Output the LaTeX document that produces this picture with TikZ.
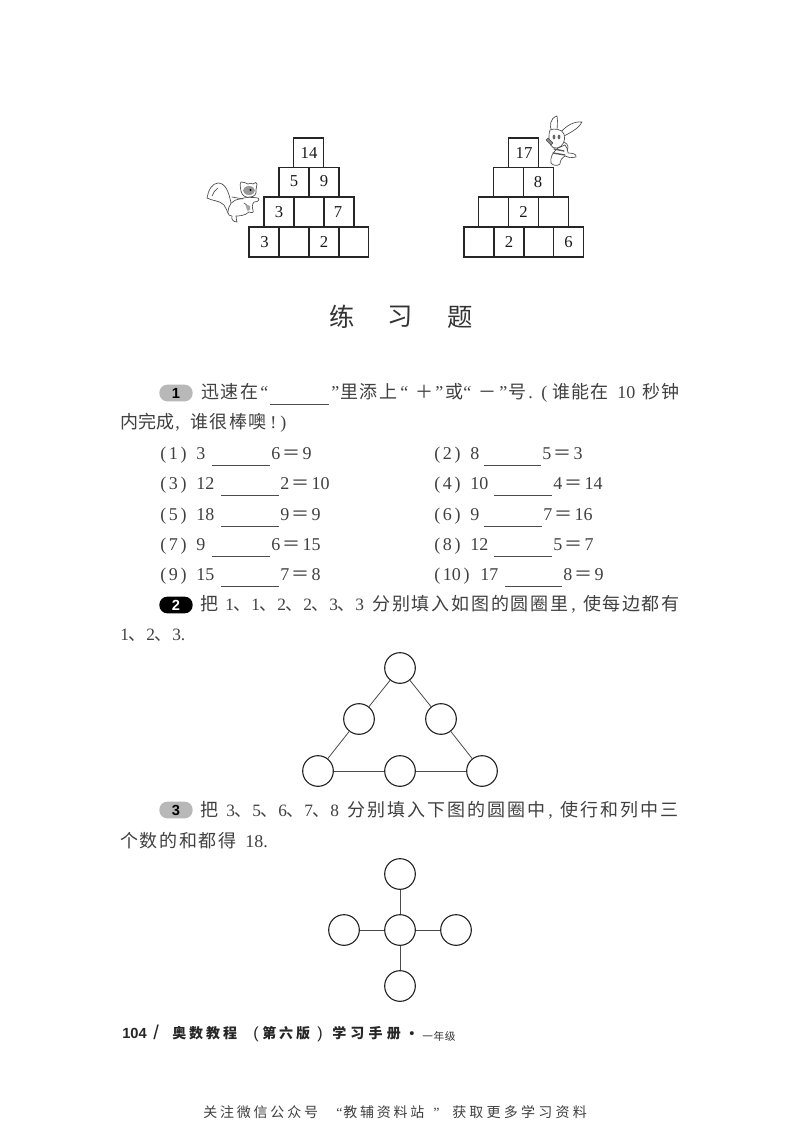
\documentclass[tikz,border=0pt]{standalone}
\usepackage{fontspec}
\setmainfont{Noto Sans CJK SC}
\newfontfamily\digf{Liberation Serif}
\newfontfamily\sansf{Liberation Sans}
\newcommand{\D}[1]{{\digf #1}}
\newcommand{\E}[2]{\D{#1}\kern1.6pt＝\kern1.6pt\D{#2}}
\newcommand{\Pan}[1]{\D{(\kern2pt#1\kern2pt)}}
\tikzset{
  txt/.style={anchor=west,inner sep=0pt,text height=11pt,text depth=1.5pt,font=\fontsize{13.5}{14}\selectfont,text=black!75},
  num/.style={anchor=center,inner sep=0pt,font=\fontsize{12.5}{13}\selectfont\digf,text=black!90},
  cell/.style={draw=black!85,line width=1.2pt},
  pill/.style={rounded corners=6pt,minimum width=25pt,minimum height=12.5pt,inner sep=0pt,font=\fontsize{11}{12}\selectfont\bfseries\sansf},
  ring/.style={circle,draw=black!85,line width=0.85pt,minimum size=23pt,inner sep=0pt},
  bar/.style={black!70,line width=0.5pt},
  conn/.style={black!70,line width=0.6pt},
  toon/.style={black!70,line width=0.5pt,line join=round,line cap=round},
  foot/.style={anchor=west,inner sep=0pt,text height=8.5pt,text depth=1.2pt,font=\fontsize{10.5}{12}\selectfont\bfseries,text=black!85},
  hand/.style={anchor=west,inner sep=0pt,text height=8.5pt,text depth=1.2pt,font=\fontsize{10.5}{11}\selectfont,text=black!75},
}
\newcommand{\LS}[1]{\addfontfeature{LetterSpace=#1}}
\begin{document}
\begin{tikzpicture}[x=0.75pt,y=-0.75pt]
\useasboundingbox (0,0) rectangle (800,1123);
\fill[white] (0,0) rectangle (800,1123);

% left pyramid
\foreach \x in {293.5} \draw[cell] (\x,138) rectangle ++(30,29.5);
\foreach \x in {279,309} \draw[cell] (\x,167.5) rectangle ++(30,29.5);
\foreach \x in {264,294,324} \draw[cell] (\x,197) rectangle ++(30,30);
\foreach \x in {249,279,309,338.5} \draw[cell] (\x,227) rectangle ++(30,30);
\node[num] (a1) at (309,153) {14};
\node[num] (a2) at (294,181) {5};
\node[num] (a3) at (324,181) {9};
\node[num] (a4) at (279,212) {3};
\node[num] (a5) at (338,212) {7};
\node[num] (a6) at (264.5,242) {3};
\node[num] (a7) at (324,242) {2};
% right pyramid
\foreach \x in {508.5} \draw[cell] (\x,138) rectangle ++(30,29.5);
\foreach \x in {493.5,523.5} \draw[cell] (\x,167.5) rectangle ++(30,29.5);
\foreach \x in {478.5,508.5,538.5} \draw[cell] (\x,197) rectangle ++(30,30);
\foreach \x in {464,494,523.5,553.5} \draw[cell] (\x,227) rectangle ++(30,30);
\node[num] (b1) at (524,153) {17};
\node[num] (b2) at (538,182) {8};
\node[num] (b3) at (523.5,212) {2};
\node[num] (b4) at (509,242) {2};
\node[num] (b5) at (568.5,242) {6};

% squirrel
\begin{scope}[toon]
\draw[fill=white] (231,203) .. controls (229,193) and (226,183) .. (218,183) .. controls (212,183) and (208,191) .. (207,198)
  .. controls (212,201) and (219,200) .. (224,205) .. controls (226,208) and (227,211) .. (228,213);
\draw (218,188) .. controls (215,190) and (213,193) .. (212,196);
\draw[fill=white] (228,213) .. controls (228,205) and (232,200) .. (240,199) .. controls (246,197) and (251,197) .. (258,198)
  .. controls (260,200) and (258,202) .. (254,202) .. controls (252,204) and (252,208) .. (253,210)
  .. controls (254,213) and (252,213) .. (249,212) .. controls (245,216) and (238,216) .. (236,216)
  .. controls (236,219) and (237,221) .. (237,222) .. controls (233,222) and (231,219) .. (232,216) .. controls (230,216) and (228,215) .. (228,213);
\draw[fill=white] (241,191) .. controls (240,186) and (240,183) .. (241,182) .. controls (244,182) and (246,183) .. (248,184)
  .. controls (250,183) and (252,183) .. (253,184) .. controls (255,182) and (257,182) .. (257,184) .. controls (257,186) and (256,188) .. (256,190)
  .. controls (257,194) and (254,197) .. (250,197) .. controls (246,198) and (242,196) .. (241,191);
\fill[black!40] (249,190.5) ellipse [x radius=6, y radius=4.5];
\fill[black] (250.5,190) circle [radius=1.1];
\draw (232,197) -- (243,199) (244,203) .. controls (248,205) and (249,208) .. (248,211);
\fill[black!35] (245,204) -- (250,206) -- (250,210) -- (247,210) -- cycle;
\end{scope}

% rabbit
\begin{scope}[toon]
\draw[fill=white] (552,132) .. controls (549,126) and (550,118) .. (557,116) .. controls (558,122) and (557,128) .. (557,131) -- cycle;
\draw[fill=white] (561,132) .. controls (566,126) and (574,121) .. (582,122) .. controls (580,127) and (572,132) .. (564,136) -- cycle;
\draw[fill=white] (558,148) .. controls (552,153) and (550,158) .. (551,163) .. controls (553,166) and (558,166) .. (560,164)
  .. controls (560,160) and (562,158) .. (565,156) .. controls (568,158) and (571,158) .. (576,157) .. controls (577,154) and (572,153) .. (568,153)
  .. controls (568,150) and (567,147) .. (565,145) -- cycle;
\draw[fill=white] (550,130) .. controls (554,128) and (562,129) .. (564,134) .. controls (566,140) and (563,147) .. (557,148)
  .. controls (551,149) and (549,143) .. (549,138) .. controls (549,135) and (549,132) .. (550,130);
\fill[black!60] (554,137) ellipse [x radius=1.4, y radius=2.4];
\fill[black!60] (559,137) ellipse [x radius=1.4, y radius=2.4];
\draw[fill=black!45] (548,138) -- (553,143) -- (551,145) -- (546,140) -- cycle;
\draw[line width=1pt,black!65] (554,149) -- (564,151) (553,153) -- (565,155);
\draw (564,142) .. controls (568,144) and (569,147) .. (567,150);
\end{scope}

% title
\node[inner sep=0pt,font=\fontsize{19}{20}\selectfont,text=black!80] (t1) at (342,317) {练};
\node[inner sep=0pt,font=\fontsize{19}{20}\selectfont,text=black!80] (t2) at (400,317) {习};
\node[inner sep=0pt,font=\fontsize{19}{20}\selectfont,text=black!80] (t3) at (460,317) {题};

% question 1
\node[pill,fill=black!28] (p1) at (176,393) {1};
\node[txt] (q1a) at (201,392) {\LS{8}迅速在};
\node[txt] (q1a2) at (260,392) {\D{“}};
\draw[bar] (270,404) -- (329,404);
\node[txt] (q1b) at (331,392) {\D{”}};
\node[txt] (q1b2) at (340,392) {\LS{8}里添上};
\node[txt] (q1b3) at (400,392) {\D{“}};
\node[txt,anchor=center] (q1b4) at (424,392) {＋};
\node[txt] (q1b5) at (435,392) {\D{”}};
\node[txt] (q1b6) at (445,392) {或};
\node[txt] (q1b7) at (463,392) {\D{“}};
\node[txt,anchor=center] (q1b8) at (487,392) {－};
\node[txt] (q1b9) at (499,392) {\D{”}};
\node[txt] (q1b10) at (508,392) {号};
\node[txt] (q1b11) at (528,392) {\D{.}};
\node[txt] (q1b12) at (541,392) {\D{(}};
\node[txt] (q1b13) at (552,392) {\LS{6}谁能在};
\node[txt] (q1c) at (617,392) {\D{10}};
\node[txt] (q1d) at (642,392) {\LS{8}秒钟};
\node[txt] (q1e) at (120,422) {内完成};
\node[txt] (q1f) at (175,422) {\D{,}};
\node[txt] (q1g) at (190,422) {\LS{8}谁很棒噢};
\node[txt] (q1h) at (270,422) {\D{!\kern3pt)}};

\node[txt] (r1) at (160,453) {\Pan{1}};
\node[txt] (r1n) at (196,453) {\D{3}};
\draw[bar] (212,465) -- (270,465);
\node[txt] (r1e) at (271,453) {\E{6}{9}};
\node[txt] (r2) at (434,453) {\Pan{2}};
\node[txt] (r2n) at (470,453) {\D{8}};
\draw[bar] (484,465) -- (541,465);
\node[txt] (r2e) at (542,453) {\E{5}{3}};

\node[txt] (r3) at (160,483) {\Pan{3}};
\node[txt] (r3n) at (196,483) {\D{12}};
\draw[bar] (221,495) -- (279,495);
\node[txt] (r3e) at (280,483) {\E{2}{10}};
\node[txt] (r4) at (434,483) {\Pan{4}};
\node[txt] (r4n) at (470,483) {\D{10}};
\draw[bar] (494,495) -- (552,495);
\node[txt] (r4e) at (553,483) {\E{4}{14}};

\node[txt] (r5) at (160,514) {\Pan{5}};
\node[txt] (r5n) at (196,514) {\D{18}};
\draw[bar] (221,526) -- (279,526);
\node[txt] (r5e) at (280,514) {\E{9}{9}};
\node[txt] (r6) at (434,514) {\Pan{6}};
\node[txt] (r6n) at (470,514) {\D{9}};
\draw[bar] (484,526) -- (542,526);
\node[txt] (r6e) at (543,514) {\E{7}{16}};

\node[txt] (r7) at (160,544) {\Pan{7}};
\node[txt] (r7n) at (196,544) {\D{9}};
\draw[bar] (212,556) -- (270,556);
\node[txt] (r7e) at (271,544) {\E{6}{15}};
\node[txt] (r8) at (434,544) {\Pan{8}};
\node[txt] (r8n) at (470,544) {\D{12}};
\draw[bar] (494,556) -- (552,556);
\node[txt] (r8e) at (553,544) {\E{5}{7}};

\node[txt] (r9) at (160,574) {\Pan{9}};
\node[txt] (r9n) at (196,574) {\D{15}};
\draw[bar] (221,586) -- (279,586);
\node[txt] (r9e) at (280,574) {\E{7}{8}};
\node[txt] (r10) at (434,574) {\Pan{10}};
\node[txt] (r10n) at (480,574) {\D{17}};
\draw[bar] (505,586) -- (562,586);
\node[txt] (r10e) at (563,574) {\E{8}{9}};

% question 2
\node[pill,fill=black,text=white] (p2) at (176,605) {2};
\node[txt] (q2a) at (200,604) {把};
\node[txt,font=\fontsize{13}{14}\selectfont] (q2b) at (225,604) {\D{1}、\D{1}、\D{2}、\D{2}、\D{3}、\D{3}};
\node[txt] (q2c) at (372,604) {\LS{10}分别填入如图的圆圈里};
\node[txt] (q2c2) at (571,604) {\D{,}};
\node[txt] (q2c3) at (583,604) {\LS{8}使每边都有};
\node[txt,font=\fontsize{13}{14}\selectfont] (q2d) at (120,634) {\D{1}、\D{2}、\D{3}\D{.}};

% triangle
\node[ring] (c1) at (400,668) {};
\node[ring] (c2) at (359,719) {};
\node[ring] (c3) at (441,719) {};
\node[ring] (c4) at (318,771) {};
\node[ring] (c5) at (400,771) {};
\node[ring] (c6) at (482,771) {};
\draw[conn] (c1) -- (c2);
\draw[conn] (c1) -- (c3);
\draw[conn] (c2) -- (c4);
\draw[conn] (c3) -- (c6);
\draw[conn] (c4) -- (c5);
\draw[conn] (c5) -- (c6);

% question 3
\node[pill,fill=black!28] (p3) at (176,810) {3};
\node[txt] (q3a) at (200,810) {把};
\node[txt,font=\fontsize{13}{14}\selectfont] (q3b) at (226,810) {\D{3}、\D{5}、\D{6}、\D{7}、\D{8}};
\node[txt] (q3c) at (347,810) {\LS{11}分别填入下图的圆圈中};
\node[txt] (q3c2) at (548,810) {\D{,}};
\node[txt] (q3c3) at (560,810) {\LS{11}使行和列中三};
\node[txt] (q3d) at (120,841) {\LS{9}个数的和都得};
\node[txt] (q3e) at (245,841) {\D{18.}};

% cross
\node[ring] (d1) at (400,874) {};
\node[ring] (d2) at (344,930) {};
\node[ring] (d3) at (400,930) {};
\node[ring] (d4) at (456,930) {};
\node[ring] (d5) at (400,986) {};
\draw[conn] (d1) -- (d3);
\draw[conn] (d2) -- (d3);
\draw[conn] (d3) -- (d4);
\draw[conn] (d3) -- (d5);

% footer
\node[foot,font=\fontsize{11}{12}\selectfont\bfseries\sansf] (f1) at (122,1034) {104};
\node[foot,font=\fontsize{15}{16}\selectfont\sansf] (f2) at (153,1035) {/};
\node[foot] (f3) at (172,1034) {\LS{21}奥数教程};
\node[foot,font=\fontsize{12}{12}\selectfont\sansf] (f4a) at (253,1034) {(};
\node[foot] (f4) at (262,1034) {\LS{21}第六版};
\node[foot,font=\fontsize{12}{12}\selectfont\sansf] (f4b) at (317,1034) {)};
\node[foot] (f5) at (332,1034) {\LS{30}学习手册};
\node[foot,font=\fontsize{11}{12}\selectfont\sansf] (f6) at (409,1034) {•};
\node[anchor=west,inner sep=0pt,font=\fontsize{8}{9}\selectfont,text=black!80] (f7) at (422,1036) {\LS{6}一年级};
\node[hand] (g1) at (203,1113) {\LS{20}关注微信公众号};
\node[hand] (g2a) at (336,1113) {\D{“}};
\node[hand] (g2) at (343,1113) {\LS{20}教辅资料站};
\node[hand] (g2b) at (433,1113) {\D{”}};
\node[hand] (g3) at (452,1113) {\LS{23}获取更多学习资料};
\end{tikzpicture}
\end{document}
